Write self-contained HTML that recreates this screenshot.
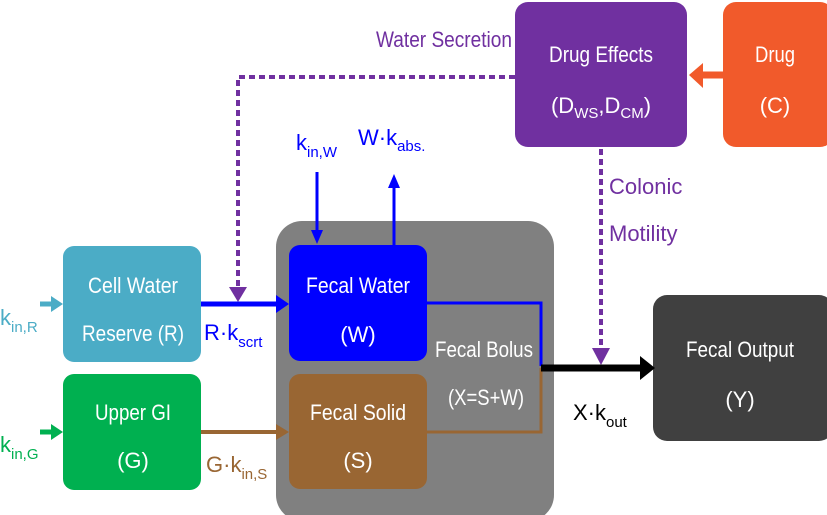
<!DOCTYPE html>
<html><head><meta charset="utf-8"><style>html,body{margin:0;padding:0;background:#fff}svg{display:block}text{font-family:"Liberation Sans",sans-serif}</style></head>
<body>
<svg width="827" height="515" viewBox="0 0 827 515" xmlns="http://www.w3.org/2000/svg">
<defs>
<marker id="ab" markerWidth="4" markerHeight="4" refX="3" refY="2" orient="auto" markerUnits="strokeWidth"><path d="M0,0 L4,2 L0,4Z" fill="#0000ff"/></marker>
</defs>
<!-- gray bolus -->
<rect x="276" y="221" width="278" height="300" rx="26" fill="#808080"/>
<!-- boxes -->
<rect x="515" y="2" width="172" height="145" rx="13" fill="#7030a0"/>
<rect x="723" y="2" width="110" height="145" rx="13" fill="#f15a2b"/>
<rect x="63" y="246" width="138" height="116" rx="11" fill="#4bacc6"/>
<rect x="63" y="374" width="138" height="116" rx="11" fill="#00b050"/>
<rect x="289" y="245" width="138" height="116" rx="11" fill="#0000ff"/>
<rect x="289" y="374" width="138" height="115" rx="11" fill="#996633"/>
<rect x="653" y="295" width="180" height="146" rx="14" fill="#404040"/>
<!-- dashed purple -->
<path d="M515,77 H238 V290" fill="none" stroke="#7030a0" stroke-width="4" stroke-dasharray="6,4"/>
<path d="M229,287 L247,287 L238,302Z" fill="#7030a0"/>
<path d="M601,149 V350" fill="none" stroke="#7030a0" stroke-width="4" stroke-dasharray="6,4"/>
<path d="M592,348 L610,348 L601,365Z" fill="#7030a0"/>
<!-- drug arrow -->
<path d="M723,75 H700" stroke="#f15a2b" stroke-width="7"/>
<path d="M703,63 L689,75 L703,88Z" fill="#f15a2b"/>
<!-- R arrow -->
<path d="M201,304 H278" stroke="#0000ff" stroke-width="5"/>
<path d="M276,295 L289,304 L276,313Z" fill="#0000ff"/>
<!-- G arrow -->
<path d="M201,432 H278" stroke="#996633" stroke-width="4"/>
<path d="M276,424 L289,432 L276,440Z" fill="#996633"/>
<!-- kin,R / kin,G arrows -->
<path d="M40,304 H53" stroke="#4bacc6" stroke-width="5"/>
<path d="M51,296 L63,304 L51,312Z" fill="#4bacc6"/>
<path d="M40,432 H53" stroke="#00b050" stroke-width="5"/>
<path d="M51,424 L63,432 L51,440Z" fill="#00b050"/>
<!-- kin,W down / kabs up -->
<path d="M317,172 V232" stroke="#0000ff" stroke-width="3"/>
<path d="M311,230 L323,230 L317,244Z" fill="#0000ff"/>
<path d="M394,245 V186" stroke="#0000ff" stroke-width="3"/>
<path d="M388,188 L400,188 L394,174Z" fill="#0000ff"/>
<!-- inner lines -->
<path d="M427,303 H541 V366" fill="none" stroke="#0000ff" stroke-width="3"/>
<path d="M427,432 H541 V368" fill="none" stroke="#996633" stroke-width="3"/>
<!-- output arrow -->
<path d="M541,368 H640" stroke="#000" stroke-width="7"/>
<path d="M640,356 L655,368 L640,380Z" fill="#000"/>
<!-- box texts -->
<g fill="#fff" font-size="22" text-anchor="middle">
<text x="601" y="62" textLength="104" lengthAdjust="spacingAndGlyphs">Drug Effects</text>
<text x="601" y="113">(D<tspan font-size="15" dy="5">WS</tspan><tspan dy="-5">,D</tspan><tspan font-size="15" dy="5">CM</tspan><tspan dy="-5">)</tspan></text>
<text x="775" y="62" textLength="40" lengthAdjust="spacingAndGlyphs">Drug</text>
<text x="775" y="113">(C)</text>
<text x="133" y="293" textLength="90" lengthAdjust="spacingAndGlyphs">Cell Water</text>
<text x="133" y="341" textLength="102" lengthAdjust="spacingAndGlyphs">Reserve  (R)</text>
<text x="133" y="420" textLength="76" lengthAdjust="spacingAndGlyphs">Upper GI</text>
<text x="133" y="468">(G)</text>
<text x="358" y="293" textLength="104" lengthAdjust="spacingAndGlyphs">Fecal Water</text>
<text x="358" y="342">(W)</text>
<text x="358" y="420" textLength="96" lengthAdjust="spacingAndGlyphs">Fecal Solid</text>
<text x="358" y="468">(S)</text>
<text x="484" y="357" textLength="98" lengthAdjust="spacingAndGlyphs">Fecal Bolus</text>
<text x="486" y="405" textLength="76" lengthAdjust="spacingAndGlyphs">(X=S+W)</text>
<text x="740" y="357" textLength="108" lengthAdjust="spacingAndGlyphs">Fecal Output</text>
<text x="740" y="407">(Y)</text>
</g>
<!-- labels -->
<g font-size="22">
<text x="376" y="47" fill="#7030a0" textLength="136" lengthAdjust="spacingAndGlyphs">Water Secretion</text>
<text x="609" y="194" fill="#7030a0">Colonic</text>
<text x="609" y="241" fill="#7030a0">Motility</text>
<text x="296" y="150" fill="#0000ff">k<tspan font-size="15" dy="7">in,W</tspan></text>
<text x="358" y="145" fill="#0000ff">W·k<tspan font-size="15" dy="6">abs.</tspan></text>
<text x="0" y="325" fill="#4bacc6">k<tspan font-size="15" dy="7">in,R</tspan></text>
<text x="0" y="452" fill="#00b050">k<tspan font-size="15" dy="7">in,G</tspan></text>
<text x="204" y="340" fill="#0000ff">R·k<tspan font-size="15" dy="7">scrt</tspan></text>
<text x="206" y="472" fill="#996633">G·k<tspan font-size="15" dy="7">in,S</tspan></text>
<text x="573" y="420" fill="#000">X·k<tspan font-size="15" dy="7">out</tspan></text>
</g>
</svg>
</body></html>
